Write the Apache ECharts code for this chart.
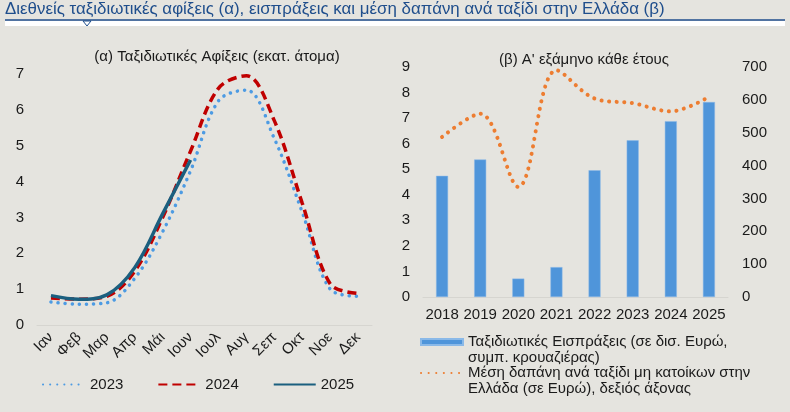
<!DOCTYPE html>
<html>
<head>
<meta charset="utf-8">
<script src="https://cdn.jsdelivr.net/npm/echarts@6/dist/echarts.min.js"></script>
<style>
  html, body { margin: 0; padding: 0; background: #e5e4df; }
  #chart { width: 790px; height: 412px; }
</style>
</head>
<body>
<div id="chart"></div>
<script>
// (α) arrivals, millions
const months = ['Ιαν', 'Φεβ', 'Μαρ', 'Απρ', 'Μάι', 'Ιουν', 'Ιουλ', 'Αυγ', 'Σεπ', 'Οκτ', 'Νοε', 'Δεκ']
const arrivals2023 = [0.64, 0.58, 0.62, 1.3, 2.6, 4.3, 6.25, 6.55, 5.2, 3.15, 1.0, 0.8]
const arrivals2024 = [0.75, 0.72, 0.8, 1.5, 3.0, 4.85, 6.6, 6.95, 5.7, 3.4, 1.15, 0.88]
const arrivals2025 = [0.82, 0.72, 0.84, 1.6, 3.1, 4.6]

// (β) first half of each year
const years = ['2018', '2019', '2020', '2021', '2022', '2023', '2024', '2025']
const receipts = [4.74, 5.38, 0.72, 1.17, 4.96, 6.13, 6.88, 7.63]
const avgSpend = [487, 558, 335, 690, 604, 590, 565, 609]

const headerText = 'Διεθνείς ταξιδιωτικές αφίξεις (α), εισπράξεις και μέση δαπάνη ανά ταξίδι στην Ελλάδα (β)'
const receiptsName = 'Ταξιδιωτικές Εισπράξεις (σε δισ. Ευρώ,\nσυμπ. κρουαζιέρας)'
const spendName = 'Μέση δαπάνη ανά ταξίδι μη κατοίκων στην\nΕλλάδα (σε Ευρώ), δεξιός άξονας'

const font = 'Liberation Sans, Arial, sans-serif'
const txt = '#1a1a1a'
const axisLine = { show: true, lineStyle: { color: '#d6d5d0', width: 1 } }
const noSymbol = { opacity: 0 }
const smooth = 0.35

const chart = echarts.init(document.getElementById('chart'), null, { renderer: 'canvas' })

chart.setOption({
  backgroundColor: '#e5e4df',
  textStyle: { fontFamily: font },
  title: [
    { text: '(α) Ταξιδιωτικές Αφίξεις (εκατ. άτομα)', left: 212, top: 44, textAlign: 'center',
      textStyle: { fontSize: 15, fontWeight: 'normal', color: txt, fontFamily: font } },
    { text: '(β) Α\' εξάμηνο κάθε έτους', left: 579, top: 47, textAlign: 'center',
      textStyle: { fontSize: 15, fontWeight: 'normal', color: txt, fontFamily: font } }
  ],
  graphic: [
    { type: 'text', left: 5, top: 1,
      style: { text: headerText, fontSize: 16.9, fontFamily: font, fill: '#1f4e8c' } },
    { type: 'rect', shape: { x: 5, y: 21, width: 780, height: 5 }, style: { fill: '#ffffff' } },
    { type: 'line', shape: { x1: 5, y1: 20, x2: 785, y2: 20 }, style: { stroke: '#1f4e8c', lineWidth: 1.5 } },
    { type: 'polygon', shape: { points: [[83, 21], [91, 21], [87, 26]] },
      style: { fill: '#ffffff', stroke: '#1f4e8c', lineWidth: 1 } }
  ],
  legend: [
    {
      data: ['2023', '2024', '2025'],
      left: 37, top: 372, itemWidth: 42, itemHeight: 14, itemGap: 34,
      itemStyle: noSymbol,
      textStyle: { fontSize: 15, color: txt, fontFamily: font }
    },
    {
      data: [{ name: receiptsName, icon: 'rect' }, { name: spendName, itemStyle: noSymbol }],
      formatter: name => '\n' + name,
      orient: 'vertical', left: 415, top: 313, itemWidth: 42, itemHeight: 6, itemGap: -17,
      textStyle: { fontSize: 15, color: txt, fontFamily: font, lineHeight: 16 }
    }
  ],
  grid: [
    { left: 37, right: 418, top: 74, bottom: 87 },
    { left: 423, right: 62, top: 67, bottom: 115 }
  ],
  xAxis: [
    { type: 'category', gridIndex: 0, data: months, boundaryGap: true,
      axisLine: axisLine, axisTick: { show: false },
      axisLabel: { rotate: 45, margin: 10, fontSize: 15, color: txt, interval: 0 } },
    { type: 'category', gridIndex: 1, data: years, boundaryGap: true,
      axisLine: axisLine, axisTick: { show: false },
      axisLabel: { margin: 10, fontSize: 15, color: txt, interval: 0 } }
  ],
  yAxis: [
    { type: 'value', gridIndex: 0, min: 0, max: 7, interval: 1,
      splitLine: { show: false }, axisLine: { show: false }, axisTick: { show: false },
      axisLabel: { margin: 13, fontSize: 15, color: txt } },
    { type: 'value', gridIndex: 1, min: 0, max: 9, interval: 1,
      splitLine: { show: false }, axisLine: { show: false }, axisTick: { show: false },
      axisLabel: { margin: 13, fontSize: 15, color: txt } },
    { type: 'value', gridIndex: 1, position: 'right', min: 0, max: 700, interval: 100,
      splitLine: { show: false }, axisLine: { show: false }, axisTick: { show: false },
      axisLabel: { margin: 14, fontSize: 15, color: txt } }
  ],
  series: [
    { name: '2023', type: 'line', xAxisIndex: 0, yAxisIndex: 0, data: arrivals2023,
      smooth: smooth, symbol: 'none', color: '#4d9be3',
      lineStyle: { width: 3.5, color: '#4d9be3', type: [0.1, 7], cap: 'round' } },
    { name: '2024', type: 'line', xAxisIndex: 0, yAxisIndex: 0, data: arrivals2024,
      smooth: smooth, symbol: 'none', color: '#c00000',
      lineStyle: { width: 3.5, color: '#c00000', type: [9, 5] } },
    { name: '2025', type: 'line', xAxisIndex: 0, yAxisIndex: 0, data: arrivals2025,
      smooth: smooth, symbol: 'none', color: '#1b5f7f',
      lineStyle: { width: 3.5, color: '#1b5f7f' } },
    { name: receiptsName, type: 'bar', xAxisIndex: 1, yAxisIndex: 1, data: receipts,
      barWidth: 12, itemStyle: { color: '#4f95da', borderColor: '#8ab9e8', borderWidth: 0.5 } },
    { name: spendName, type: 'line', xAxisIndex: 1, yAxisIndex: 2, data: avgSpend,
      smooth: smooth, symbol: 'none', color: '#ed7d31', z: 3,
      lineStyle: { width: 4, color: '#ed7d31', type: [0.1, 7.5], cap: 'round' } }
  ]
})
</script>
</body>
</html>
